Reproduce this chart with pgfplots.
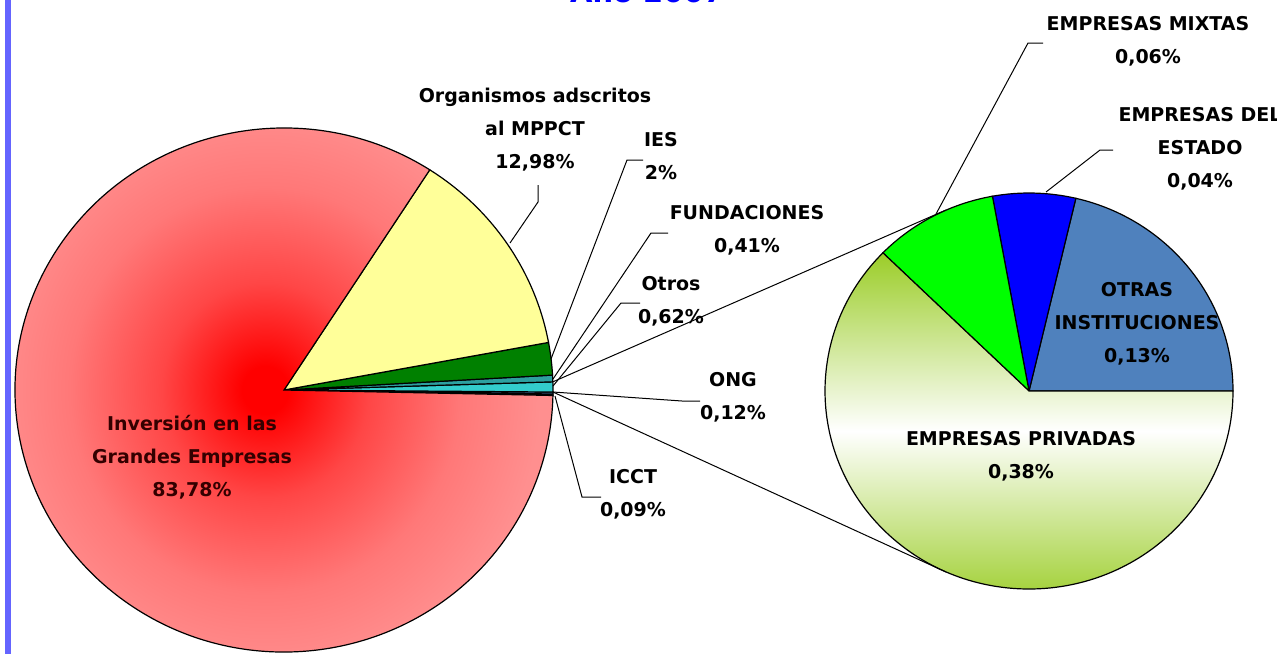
\documentclass[border=0pt]{standalone}
\usepackage{pgfplots}
\pgfplotsset{compat=1.18}
\usepackage{pgfplotstable}
\usepackage{fontspec}
\setmainfont{DejaVu Sans}

\definecolor{cYellow}{RGB}{255,255,153}
\definecolor{cIES}{RGB}{0,128,0}
\definecolor{cFund}{RGB}{45,160,160}
\definecolor{cOtros}{RGB}{51,204,204}
\definecolor{cONG}{RGB}{79,129,189}
\definecolor{cICCT}{RGB}{165,75,75}
\definecolor{pieRed}{RGB}{255,0,0}
\definecolor{pieMid}{RGB}{255,70,70}
\definecolor{pieOut}{RGB}{255,120,120}
\definecolor{piePink}{RGB}{255,143,143}
\definecolor{cMixtas}{RGB}{0,255,0}
\definecolor{cEstado}{RGB}{0,0,255}
\definecolor{cOtras}{RGB}{79,129,189}
\definecolor{cPriv}{RGB}{155,205,40}
\definecolor{frameBlue}{RGB}{100,100,255}

% the shading circle reaches the corners of the slice's box, so the pie edge is at ~35bp
\pgfdeclareradialshading{redpie}{\pgfpoint{0bp}{0bp}}{%
  color(0bp)=(pieRed); color(2bp)=(pieRed); color(9bp)=(pieMid);
  color(17bp)=(pieOut); color(24bp)=(piePink); color(50bp)=(piePink)}

\tikzset{
  sInv/.style={shade, shading=redpie},
  sOrg/.style={fill=cYellow},
  sIES/.style={fill=cIES},
  sFund/.style={fill=cFund},
  sOtros/.style={fill=cOtros},
  sONG/.style={fill=cONG},
  sICCT/.style={fill=cICCT},
  sOtras/.style={fill=cOtras},
  sEstado/.style={fill=cEstado},
  sMixtas/.style={fill=cMixtas},
  sPriv/.style={top color=cPriv, bottom color=cPriv, middle color=white},
  lab/.style={align=center, inner sep=0pt, font=\fontsize{9.5}{16.5}\selectfont\bfseries},
  lead/.style={line width=0.5pt, black},
}

% first pie, counter-clockwise from the ICCT slice
\pgfplotstableread{
name        value  sty
ICCT        0.09   sICCT
ONG         0.12   sONG
Otros       0.62   sOtros
Fundaciones 0.41   sFund
IES         2      sIES
Organismos  12.98  sOrg
Inversion   83.78  sInv
}\leftpie

% second pie (break-down of Otros), counter-clockwise from 3 o'clock
\pgfplotstableread{
name      value  sty
Otras     0.13   sOtras
Estado    0.04   sEstado
Mixtas    0.06   sMixtas
Privadas  0.38   sPriv
}\rightpie

\begin{document}
\begin{tikzpicture}
\begin{axis}[
    x=0.5pt, y=0.5pt,
    xmin=0, xmax=1277, ymin=0, ymax=654,
    y dir=reverse,
    hide axis,
    clip=true,
  ]
  \coordinate (SW) at (axis cs:0,654);
  \coordinate (NE) at (axis cs:1277,0);

  \pgfplotsextra{
    % left pie
    \pgfplotstablegetrowsof{\leftpie}
    \pgfmathtruncatemacro\nL{\pgfplotsretval-1}
    \xdef\ang{-1.2}
    \foreach \i in {0,...,\nL}{
      \pgfplotstablegetelem{\i}{value}\of\leftpie
      \pgfmathsetmacro\aE{\ang+3.6*\pgfplotsretval}
      \pgfplotstablegetelem{\i}{sty}\of\leftpie
      \edef\sty{\pgfplotsretval}
      \path[draw=black, line width=0.6pt, \sty] (axis cs:284,390) -- ++(\ang:134.5pt and 131pt)
        arc[start angle=\ang, end angle=\aE, x radius=134.5pt, y radius=131pt] -- cycle;
      \ifnum\i=2 \xdef\otA{\ang}\xdef\otB{\aE}\fi
      \xdef\ang{\aE}
    }
    % right pie
    \pgfplotstablegetrowsof{\rightpie}
    \pgfmathtruncatemacro\nR{\pgfplotsretval-1}
    \xdef\ang{0}
    \foreach \i in {0,...,\nR}{
      \pgfplotstablegetelem{\i}{value}\of\rightpie
      \pgfmathsetmacro\aE{\ang+360*\pgfplotsretval/0.61}
      \pgfplotstablegetelem{\i}{sty}\of\rightpie
      \edef\sty{\pgfplotsretval}
      \path[draw=black, line width=0.6pt, \sty] (axis cs:1029,391) -- ++(\ang:102pt and 99pt)
        arc[start angle=\ang, end angle=\aE, x radius=102pt, y radius=99pt] -- cycle;
      \xdef\ang{\aE}
    }
    % connector lines between the pies
    \draw[lead] (axis cs:284,390) ++(\otB:134.5pt and 131pt) -- (axis cs:946,210);
    \draw[lead] (axis cs:284,390) ++(\otA:134.5pt and 131pt) -- (axis cs:946,572);
  }

  % frame line and title
  \draw[frameBlue, line width=2.8pt] (axis cs:8,0) -- (axis cs:8,654);
  \node[anchor=base, text=blue, font=\fontsize{14.5}{16}\selectfont\bfseries]
    at (axis cs:647,2) {Año 2007};

  % leader lines
  \draw[lead] (axis cs:510,243) -- (axis cs:538,202) -- (axis cs:538,185);
  \draw[lead] (axis cs:551,359) -- (axis cs:627,160) -- (axis cs:643,160);
  \draw[lead] (axis cs:553,379) -- (axis cs:651,233) -- (axis cs:668,233);
  \draw[lead] (axis cs:553,386) -- (axis cs:621,303) -- (axis cs:640,303);
  \draw[lead] (axis cs:553,392) -- (axis cs:682,401) -- (axis cs:700,401);
  \draw[lead] (axis cs:555,396) -- (axis cs:582,497) -- (axis cs:601,497);
  \draw[lead] (axis cs:936,214) -- (axis cs:1028,43) -- (axis cs:1043,43);
  \draw[lead] (axis cs:1046,192) -- (axis cs:1100,150) -- (axis cs:1113,150);

  % labels
  \node[lab] at (axis cs:535,130) {Organismos adscritos\\al MPPCT\\12,98\%};
  \node[lab] at (axis cs:661,156) {IES\\2\%};
  \node[lab] at (axis cs:747,230) {FUNDACIONES\\0,41\%};
  \node[lab] at (axis cs:671,301) {Otros\\0,62\%};
  \node[lab] at (axis cs:733,397) {ONG\\0,12\%};
  \node[lab] at (axis cs:633,494) {ICCT\\0,09\%};
  \node[lab, text=black!80!red] at (axis cs:192,457) {Inversión en las\\Grandes Empresas\\83,78\%};
  \node[lab] at (axis cs:1137,324) {OTRAS\\INSTITUCIONES\\0,13\%};
  \node[lab] at (axis cs:1021,456) {EMPRESAS PRIVADAS\\0,38\%};
  \node[lab] at (axis cs:1148,41) {EMPRESAS MIXTAS\\0,06\%};
  \node[lab] at (axis cs:1200,149) {EMPRESAS DEL\\ESTADO\\0,04\%};
\end{axis}
\pgfresetboundingbox
\path[use as bounding box] (SW) rectangle (NE);
\end{tikzpicture}
\end{document}
